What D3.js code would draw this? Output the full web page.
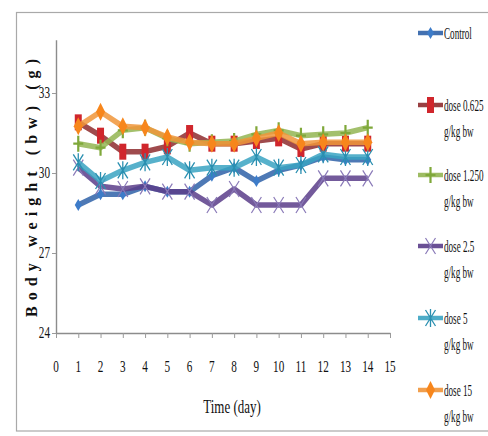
<!DOCTYPE html>
<html>
<head>
<meta charset="utf-8">
<script src="https://cdn.jsdelivr.net/npm/d3@7/dist/d3.min.js"></script>
<style>
  html, body { margin: 0; padding: 0; background: #fff; }
  svg { display: block; }
  text { font-family: "Liberation Serif", "Times New Roman", serif; fill: #111; }
</style>
</head>
<body>
<svg id="chart" width="488" height="436"></svg>
<script>
// Body weight (g) per day for each group
const days = [1, 2, 3, 4, 5, 6, 7, 8, 9, 10, 11, 12, 13, 14];
const control   = [28.8, 29.2, 29.2, 29.5, 29.3, 29.3, 29.9, 30.2, 29.7, 30.1, 30.3, 30.6, 30.5, 30.5];
const dose0625  = [31.9, 31.4, 30.8, 30.8, 31.0, 31.5, 31.1, 31.1, 31.2, 31.3, 30.9, 31.1, 31.1, 31.1];
const dose1250  = [31.1, 30.95, 31.6, 31.7, 31.3, 31.1, 31.15, 31.2, 31.45, 31.6, 31.4, 31.45, 31.5, 31.7];
const dose25    = [30.2, 29.5, 29.4, 29.5, 29.3, 29.3, 28.8, 29.4, 28.8, 28.8, 28.8, 29.8, 29.8, 29.8];
const dose5     = [30.4, 29.7, 30.1, 30.4, 30.6, 30.1, 30.2, 30.2, 30.6, 30.2, 30.3, 30.7, 30.6, 30.6];
const dose15    = [31.75, 32.3, 31.75, 31.7, 31.35, 31.15, 31.1, 31.1, 31.3, 31.5, 31.1, 31.15, 31.15, 31.15];

const seriesNames = ["Control", "dose 0.625|g/kg bw", "dose 1.250|g/kg bw", "dose 2.5|g/kg bw", "dose 5|g/kg bw", "dose 15|g/kg bw"];
const xTicks = [0, 1, 2, 3, 4, 5, 6, 7, 8, 9, 10, 11, 12, 13, 14, 15];
const yTicks = [24, 27, 30, 33];

const series = [
  { name: seriesNames[0], values: control,  line: "#2f62a8", mark: "#3d7cc9", shape: "diamond" },
  { name: seriesNames[1], values: dose0625, line: "#8e2b2e", mark: "#d0262c", shape: "rect" },
  { name: seriesNames[2], values: dose1250, line: "#93b552", mark: "#7fa83a", shape: "plus" },
  { name: seriesNames[3], values: dose25,   line: "#5a3d8a", mark: "#8a7ab8", shape: "cross" },
  { name: seriesNames[4], values: dose5,    line: "#3aa3c2", mark: "#2a8fb0", shape: "star" },
  { name: seriesNames[5], values: dose15,   line: "#f0953a", mark: "#f7861c", shape: "tdiamond" }
];

const svg = d3.select("#chart");

// outer frame
svg.append("rect")
  .attr("x", 16.5).attr("y", 12.5)
  .attr("width", 490).attr("height", 418.5)
  .attr("fill", "none").attr("stroke", "#a9a9a9").attr("stroke-width", 1.2);

const x = d3.scaleLinear().domain([0, 15]).range([56, 390]);
const y = d3.scaleLinear().domain([24, 35]).range([333, 39.7]);

// axes
const xAxis = svg.append("g").attr("transform", `translate(0,${y(24)})`)
  .call(d3.axisBottom(x).tickValues(xTicks).tickSize(5).tickSizeOuter(0).tickFormat(() => ""));
const yAxis = svg.append("g").attr("transform", `translate(${x(0)},0)`)
  .call(d3.axisLeft(y).tickValues(yTicks).tickSize(4).tickSizeOuter(0).tickFormat(() => ""));
[xAxis, yAxis].forEach(g => {
  g.select(".domain").attr("stroke", "#8c8c8c").attr("stroke-width", 1.4);
  g.selectAll(".tick line").attr("stroke", "#9a9a9a");
});

// condensed text helper
function ctext(parent, tx, ty, str, opts = {}) {
  const g = parent.append("g").attr("transform", `translate(${tx},${ty}) scale(${opts.sx || 0.7},1)`);
  return g.append("text")
    .attr("text-anchor", opts.anchor || "start")
    .attr("dominant-baseline", opts.baseline || "central")
    .attr("font-size", opts.size || 15)
    .attr("font-weight", opts.weight || "normal")
    .text(str);
}

xTicks.forEach(t => ctext(svg, x(t), 367, String(t), { anchor: "middle", size: 16 }));
yTicks.forEach(t => ctext(svg, 50, y(t), String(t), { anchor: "end", size: 16 }));

ctext(svg, 232, 407, "Time (day)", { anchor: "middle", size: 18, sx: 0.72 });

// y-axis title
svg.append("text")
  .attr("transform", `translate(31,188) rotate(-90)`)
  .attr("text-anchor", "middle")
  .attr("dominant-baseline", "central")
  .attr("font-size", 16)
  .attr("font-weight", "bold")
  .attr("textLength", 258)
  .attr("lengthAdjust", "spacing")
  .text("Body weight (bw) (g)");

// marker drawing
function marker(g, shape, color, cx, cy) {
  const m = g.append("g").attr("transform", `translate(${cx},${cy})`);
  switch (shape) {
    case "diamond":
      m.append("path").attr("d", "M0,-6 L3.5,0 L0,6 L-3.5,0Z").attr("fill", color);
      break;
    case "rect":
      m.append("rect").attr("x", -3.5).attr("y", -8).attr("width", 7).attr("height", 16).attr("fill", color);
      break;
    case "plus":
      m.append("path").attr("d", "M0,-8 V8 M-5,0 H5").attr("stroke", color).attr("stroke-width", 2.2);
      break;
    case "cross":
      m.append("path").attr("d", "M-5,-8 L5,8 M5,-8 L-5,8").attr("stroke", color).attr("stroke-width", 1.2);
      break;
    case "star":
      m.append("path").attr("d", "M-5,-8 L5,8 M5,-8 L-5,8 M0,-9 V9").attr("stroke", color).attr("stroke-width", 1.3);
      break;
    case "tdiamond":
      m.append("path").attr("d", "M0,-9 L4.5,0 L0,9 L-4.5,0Z").attr("fill", color);
      break;
  }
}

const line = d3.line().x((d, i) => x(days[i])).y(d => y(d));

const plot = svg.append("g");
series.forEach(s => {
  plot.append("path")
    .datum(s.values)
    .attr("d", line)
    .attr("fill", "none")
    .attr("stroke", s.line)
    .attr("stroke-width", 5.5)
    .attr("stroke-opacity", 0.85)
    .attr("stroke-linejoin", "round");
  s.values.forEach((v, i) => marker(plot, s.shape, s.mark, x(days[i]), y(v)));
});

// legend
const legendY = [33, 105, 175, 246, 318, 390];
const legend = svg.append("g");
series.forEach((s, i) => {
  const ly = legendY[i];
  legend.append("line")
    .attr("x1", 418).attr("x2", 443).attr("y1", ly).attr("y2", ly)
    .attr("stroke", s.line).attr("stroke-width", 4.5).attr("stroke-opacity", 0.9);
  marker(legend, s.shape, s.mark, 430.5, ly);
  s.name.split("|").forEach((part, k) => {
    ctext(legend, 444, ly + k * 26, part, { size: 16, sx: 0.57 });
  });
});
</script>
</body>
</html>
